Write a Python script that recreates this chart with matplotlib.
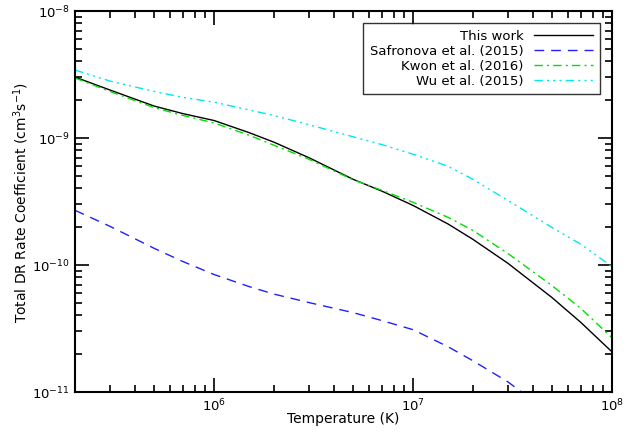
import matplotlib
matplotlib.use("Agg")
import matplotlib.pyplot as plt
from matplotlib.ticker import LogLocator, NullFormatter

# temperature grid (K)
temp = [2e5, 3e5, 5e5, 7e5, 1e6, 1.5e6, 2e6, 3e6, 5e6, 7e6,
        1e7, 1.5e7, 2e7, 3e7, 5e7, 7e7, 1e8]

# total DR rate coefficients (cm^3 s^-1)
this_work = [3.01e-9, 2.38e-9, 1.78e-9, 1.55e-9, 1.37e-9, 1.10e-9, 9.25e-10,
             6.98e-10, 4.72e-10, 3.80e-10, 2.94e-10, 2.10e-10, 1.59e-10,
             1.03e-10, 5.53e-11, 3.51e-11, 2.07e-11]
kwon = [2.96e-9, 2.32e-9, 1.73e-9, 1.50e-9, 1.31e-9, 1.05e-9, 8.75e-10,
        6.79e-10, 4.68e-10, 3.86e-10, 3.11e-10, 2.37e-10, 1.87e-10,
        1.23e-10, 6.87e-11, 4.53e-11, 2.67e-11]
wu = [3.42e-9, 2.80e-9, 2.32e-9, 2.08e-9, 1.91e-9, 1.66e-9, 1.50e-9,
      1.27e-9, 1.02e-9, 8.84e-10, 7.44e-10, 5.98e-10, 4.72e-10,
      3.22e-10, 1.97e-10, 1.45e-10, 9.7e-11]
safronova = [2.69e-10, 2.01e-10, 1.35e-10, 1.06e-10, 8.40e-11, 6.75e-11,
             5.89e-11, 5.05e-11, 4.21e-11, 3.64e-11, 3.09e-11, 2.27e-11,
             1.76e-11, 1.20e-11, 6.6e-12, 4.4e-12, 2.9e-12]

labels = ["This work", "Safronova et al. (2015)", "Kwon et al. (2016)", "Wu et al. (2015)"]

fig = plt.figure(figsize=(6.25, 4.39), dpi=100)
ax = fig.add_axes([0.12, 0.105, 0.859, 0.868])

ax.plot(temp, this_work, color="black", lw=1.0, label=labels[0])
ax.plot(temp, safronova, color="#2020ff", lw=1.0, dashes=(7, 5), label=labels[1])
ax.plot(temp, kwon, color="#00e000", lw=1.0, dashes=(6, 3, 1.5, 3), label=labels[2])
ax.plot(temp, wu, color="#00e8f0", lw=1.0,
        dashes=(6, 3, 1.5, 3, 1.5, 3, 1.5, 3), label=labels[3])

ax.set_xscale("log")
ax.set_yscale("log")
ax.set_xlim(2e5, 1e8)
ax.set_ylim(1e-11, 1e-8)

ax.xaxis.set_minor_locator(LogLocator(base=10, subs=range(2, 10)))
ax.yaxis.set_minor_locator(LogLocator(base=10, subs=range(2, 10)))
ax.xaxis.set_minor_formatter(NullFormatter())
ax.yaxis.set_minor_formatter(NullFormatter())
ax.tick_params(which="both", direction="in", top=True, right=True,
               labelsize=9.5, width=1.2)
ax.tick_params(which="major", length=10)
ax.tick_params(which="minor", length=5)
for s in ax.spines.values():
    s.set_linewidth(1.5)

ax.set_xlabel("Temperature (K)", fontsize=10, labelpad=-2)
ax.set_ylabel(r"Total DR Rate Coefficient (cm$^3$s$^{-1}$)", fontsize=10, labelpad=1)

leg = ax.legend(loc="upper right", fontsize=9.5, markerfirst=False,
                handlelength=4.5, frameon=True, fancybox=False,
                borderaxespad=0.9, labelspacing=0.15, borderpad=0.5)
leg.get_frame().set_edgecolor("black")
leg.get_frame().set_linewidth(1.0)
for t in leg.get_texts():
    t.set_ha("right")

fig.savefig("out.png", dpi=100)
